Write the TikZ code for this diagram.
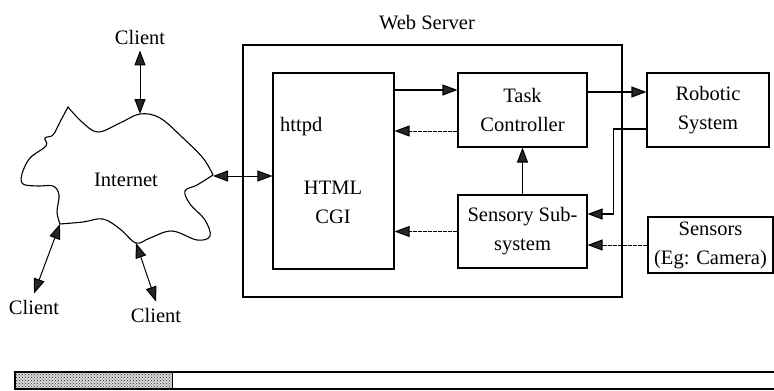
\documentclass[tikz,border=0pt]{standalone}
\usepackage{fontspec}
\setmainfont{Liberation Serif}
\usetikzlibrary{arrows.meta,patterns}
\tikzset{hd/.tip={Triangle[length=15pt,width=11pt,fill=black!85]}}
\begin{document}
\begin{tikzpicture}[x=1pt,y=-1pt,
  txt/.style={font=\fontsize{20.5}{29}\selectfont},
  box/.style={txt, draw, line width=1.1pt, inner sep=0pt, align=center},
  lbl/.style={txt, inner sep=6pt},
  fwd/.style={-{hd}, line width=1.1pt},
  bwd/.style={-{hd}, line width=1pt, dash pattern=on 4pt off 1pt},
  both/.style={{hd}-{hd}, line width=1pt}]
\useasboundingbox (0,0) rectangle (774,391);

% web server frame and its modules
\node[box, line width=1.3pt, minimum width=379pt, minimum height=252pt] (web) at (432.5,171) {};
\node[lbl] (webtitle) at (427,23) {Web Server};
\node[box, minimum width=121pt, minimum height=196pt] (html) at (333.5,171) {};
\node[lbl, anchor=west, inner sep=0pt] (httpd) at (280,127) {httpd};
\node[lbl, align=center] (cgi) at (333,202) {HTML\\CGI};
\node[box, minimum width=129pt, minimum height=74pt] (task) at (522.5,110) {Task\\Controller};
\node[box, minimum width=129pt, minimum height=73pt] (sens) at (522.5,231.5) {Sensory Sub-\\system};

% external devices
\node[box, minimum width=122pt, minimum height=74pt] (robot) at (708,110) {Robotic\\System};
\node[box, minimum width=125pt, minimum height=56pt] (camera) at (710.5,245) {Sensors\\(Eg: Camera)};

% internet cloud
\draw[line width=1.1pt]
  plot[smooth, tension=0.6] coordinates {(68,107) (82,122) (98,132) (120,123) (140,114) (160,118) (183,138) (203,158) (213,175)}
  -- plot[smooth, tension=0.6] coordinates {(213,175) (197,185) (185,191) (190,204) (205,220) (210,236) (197,240) (172,231) (150,238) (136,243) (120,229) (103,219) (83,222) (60,224)}
  -- plot[smooth, tension=0.6] coordinates {(60,224) (57,212) (59,195) (53,186) (38,186) (23,184) (22,174) (30,158) (46,146) (45,138) (53,135) (60,122) (68,107)}
  -- cycle;
\node[lbl] (inet) at (126,180) {Internet};
\coordinate (cT) at (140,114);
\coordinate (cR) at (213,176);
\coordinate (cBL) at (60,224);
\coordinate (cB) at (136,243);

% clients
\node[lbl] (clT) at (140,37) {Client};
\node[lbl] (clBL) at (34,307) {Client};
\node[lbl] (clB) at (156,315) {Client};
\draw[both] (clT.south) -- (cT);
\draw[both] (cBL) -- (clBL.north);
\draw[both] (cB) -- (clB.north);
\draw[both] (cR) -- (cR -| html.west);

% data flow inside and out of the server
\draw[fwd] ([yshift=81pt]html.east) -- ([yshift=20pt]task.west);
\draw[bwd] ([yshift=-21pt]task.west) -- ([yshift=40pt]html.east);
\draw[fwd] (sens.north) -- (task.south);
\draw[bwd] (sens.west) -- (sens.west -| html.east);
\draw[fwd] ([yshift=18pt]task.east) -- ([yshift=18pt]robot.west);
\draw[fwd] ([yshift=-19pt]robot.west) -- ++(-33pt,0) |- ([yshift=17.5pt]sens.east);
\draw[bwd] (camera.west) -- (camera.west -| sens.east);

% progress bar
\fill[gray!30] (15,372) rectangle (172,389);
\fill[pattern=crosshatch dots, pattern color=black!85] (15,372) rectangle (172,389);
\draw[line width=1.2pt] (774,372) -- (15,372) -- (15,389) -- (774,389);
\draw[line width=1pt] (172,372) -- (172,389);
\end{tikzpicture}
\end{document}
